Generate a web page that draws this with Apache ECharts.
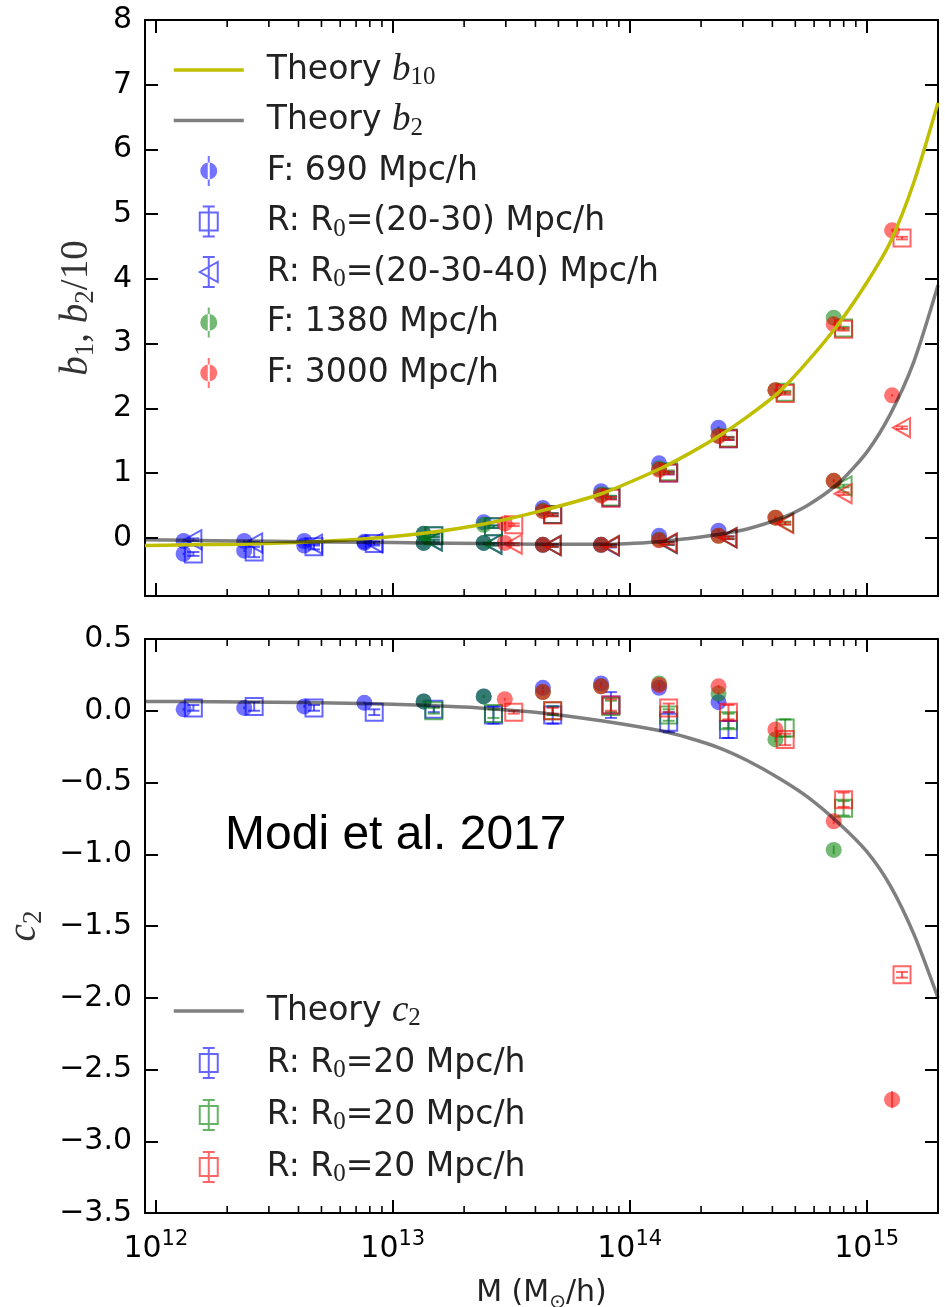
<!DOCTYPE html>
<html>
<head>
<meta charset="utf-8">
<script src="https://cdn.jsdelivr.net/npm/echarts@6/dist/echarts.min.js"></script>
<style>
  html, body { margin: 0; padding: 0; background: #fff; }
  #chart { width: 945px; height: 1307px; }
</style>
</head>
<body>
<div id="chart"></div>
<script>
// ---- Halo mass bins (M_sun/h) for each box -------------------------------
// F = Fourier-space fits (circles), R = real-space fits (squares / triangles)
const massF690  = [1.31e12, 2.36e12, 4.23e12, 7.59e12, 1.35e13, 2.42e13, 4.30e13, 7.57e13, 1.33e14, 2.37e14];
const massF1380 = [1.35e13, 2.42e13, 4.30e13, 7.57e13, 1.33e14, 2.37e14, 4.12e14, 7.26e14];
const massF3000 = [2.97e13, 4.30e13, 7.57e13, 1.33e14, 2.37e14, 4.12e14, 7.26e14, 1.28e15];
const massR690  = [1.44e12, 2.60e12, 4.65e12, 8.35e12, 1.49e13, 2.66e13, 4.73e13, 8.33e13, 1.46e14, 2.61e14];
const massR1380 = [1.49e13, 2.66e13, 4.73e13, 8.33e13, 1.46e14, 2.61e14, 4.53e14, 7.99e14];
const massR3000 = [3.24e13, 4.73e13, 8.33e13, 1.46e14, 2.61e14, 4.53e14, 7.99e14, 1.41e15];

// ---- Upper panel: b1 and b2/10 -------------------------------------------
const f690B1   = [-0.25, -0.20, -0.12, -0.08, 0.06, 0.24, 0.46, 0.72, 1.15, 1.70];
const f690B2   = [-0.05, -0.05, -0.05, -0.06, -0.08, -0.08, -0.11, -0.11, 0.03, 0.11];
const f1380B1  = [0.06, 0.20, 0.42, 0.67, 1.07, 1.58, 2.28, 3.40];
const f1380B2  = [-0.08, -0.08, -0.11, -0.11, -0.03, 0.03, 0.31, 0.88];
const f3000B1  = [0.22, 0.41, 0.65, 1.05, 1.57, 2.28, 3.30, 4.75];
const f3000B2  = [-0.08, -0.11, -0.11, -0.04, 0.03, 0.31, 0.88, 2.20];
const r690B1   = [-0.25, -0.22, -0.14, -0.09, 0.03, 0.17, 0.36, 0.62, 1.00, 1.53];
const r690B1e  = [0.03, 0.08, 0.04, 0.03, 0.02, 0.02, 0.02, 0.02, 0.02, 0.02];
const r690B2   = [-0.03, -0.08, -0.10, -0.08, -0.05, -0.10, -0.12, -0.13, -0.09, 0.00];
const r1380B1  = [0.03, 0.17, 0.36, 0.63, 1.02, 1.54, 2.25, 3.24];
const r1380B2  = [-0.05, -0.10, -0.12, -0.12, -0.09, 0.00, 0.23, 0.80];
const r3000B1  = [0.20, 0.35, 0.61, 1.00, 1.53, 2.23, 3.22, 4.63];
const r3000B2  = [-0.10, -0.12, -0.12, -0.08, 0.00, 0.22, 0.68, 1.70];
const errSmall8  = [0.02, 0.02, 0.02, 0.02, 0.02, 0.02, 0.02, 0.02];
const errSmall10 = [0.02, 0.02, 0.02, 0.02, 0.02, 0.02, 0.02, 0.02, 0.02, 0.02];

// ---- Lower panel: c2 -------------------------------------------------------
const f690C2   = [0.01, 0.02, 0.03, 0.055, 0.065, 0.10, 0.16, 0.19, 0.16, 0.06];
const f690C2e  = [0.01, 0.01, 0.01, 0.01, 0.01, 0.01, 0.01, 0.01, 0.01, 0.01];
const f1380C2  = [0.065, 0.10, 0.13, 0.17, 0.19, 0.12, -0.20, -0.97];
const f1380C2e = [0.01, 0.01, 0.01, 0.01, 0.01, 0.01, 0.02, 0.03];
const f3000C2  = [0.08, 0.13, 0.17, 0.18, 0.17, -0.13, -0.77, -2.71];
const f3000C2e = [0.01, 0.01, 0.01, 0.01, 0.01, 0.02, 0.02, 0.06];
const r690C2   = [0.02, 0.03, 0.02, -0.01, 0.01, -0.03, -0.03, 0.04, -0.08, -0.13];
const r690C2e  = [0.02, 0.03, 0.02, 0.02, 0.02, 0.06, 0.06, 0.09, 0.07, 0.06];
const r1380C2  = [0.00, -0.02, 0.00, 0.03, -0.03, -0.07, -0.12, -0.68];
const r1380C2e = [0.02, 0.03, 0.03, 0.04, 0.04, 0.05, 0.06, 0.05];
const r3000C2  = [-0.01, 0.00, 0.04, 0.02, -0.01, -0.20, -0.62, -1.84];
const r3000C2e = [0.01, 0.02, 0.04, 0.03, 0.05, 0.04, 0.05, 0.02];

// ---- Theory curves (log10 mass grid) --------------------------------------
const thLogM = [11.954, 12.12, 12.37, 12.62, 12.87, 13.13, 13.38, 13.63, 13.88, 14.13, 14.25, 14.38, 14.5, 14.63, 14.75, 14.88, 15.0, 15.1, 15.2, 15.301];
const thB10  = [-0.12, -0.11, -0.10, -0.07, -0.02, 0.07, 0.21, 0.42, 0.68, 1.07, 1.30, 1.58, 1.88, 2.25, 2.72, 3.30, 3.94, 4.57, 5.50, 6.72];
const thB2   = [-0.03, -0.04, -0.05, -0.06, -0.07, -0.08, -0.09, -0.10, -0.10, -0.06, -0.01, 0.055, 0.14, 0.29, 0.50, 0.84, 1.32, 1.91, 2.73, 3.90];
const thC2   = [0.065, 0.064, 0.061, 0.057, 0.050, 0.038, 0.018, -0.015, -0.07, -0.14, -0.19, -0.26, -0.35, -0.47, -0.60, -0.78, -0.98, -1.22, -1.56, -2.00];

// ---- Axes ------------------------------------------------------------------
const X_MIN = 9e11, X_MAX = 2e15;
const xTickExps = [12, 13, 14, 15];
const minorTickMass = [2e12, 3e12, 4e12, 5e12, 6e12, 7e12, 8e12, 9e12,
                       2e13, 3e13, 4e13, 5e13, 6e13, 7e13, 8e13, 9e13,
                       2e14, 3e14, 4e14, 5e14, 6e14, 7e14, 8e14, 9e14];
const yTopTicks = [0, 1, 2, 3, 4, 5, 6, 7, 8];
const yBotTicks = [0.5, 0.0, -0.5, -1.0, -1.5, -2.0, -2.5, -3.0, -3.5];

const BLUE = [0, 0, 255], GREEN = [0, 128, 0], RED = [255, 0, 0];
const rgba = (c, a) => `rgba(${c[0]},${c[1]},${c[2]},${a})`;
const SANS = 'DejaVu Sans';
const SERIF = 'Liberation Serif';
const INK = '#000';
const YELLOW = '#bfbf00', GREY = 'rgba(0,0,0,0.5)';

const zip3 = (m, v, e) => m.map((x, i) => [x, v[i], e[i]]);

function pointRenderer(kind, col) {
  const stroke = rgba(col, 0.6), fill = rgba(col, 0.55);
  return function (params, api) {
    const m = api.value(0), v = api.value(1), e = api.value(2);
    const c = api.coord([m, v]);
    const kids = [];
    if (e > 0) {
      const t = api.coord([m, v + e])[1], b = api.coord([m, v - e])[1];
      const ebStroke = kind === 'circle' ? fill : stroke;
      kids.push({ type: 'line', shape: { x1: c[0], y1: t, x2: c[0], y2: b }, style: { stroke: ebStroke, lineWidth: 2 } });
      if (kind !== 'circle') {
        kids.push({ type: 'line', shape: { x1: c[0] - 6, y1: t, x2: c[0] + 6, y2: t }, style: { stroke, lineWidth: 2 } });
        kids.push({ type: 'line', shape: { x1: c[0] - 6, y1: b, x2: c[0] + 6, y2: b }, style: { stroke, lineWidth: 2 } });
      }
    }
    if (kind === 'circle') {
      kids.push({ type: 'circle', shape: { cx: c[0], cy: c[1], r: 8 }, style: { fill } });
    } else if (kind === 'square') {
      kids.push({ type: 'rect', shape: { x: c[0] - 8.5, y: c[1] - 8.5, width: 17, height: 17 }, style: { fill: 'none', stroke, lineWidth: 2 } });
    } else {
      kids.push({ type: 'polygon', shape: { points: [[c[0] - 9, c[1]], [c[0] + 8, c[1] - 9.5], [c[0] + 8, c[1] + 9.5]] }, style: { fill: 'none', stroke, lineWidth: 2 } });
    }
    return { type: 'group', children: kids };
  };
}

function minorTickRenderer(params, api) {
  const cs = params.coordSys;
  const x = api.coord([api.value(0), api.value(1)])[0];
  const bottom = cs.y + cs.height, top = cs.y;
  return {
    type: 'group',
    children: [
      { type: 'line', shape: { x1: x, y1: bottom, x2: x, y2: bottom - 7 }, style: { stroke: INK, lineWidth: 1.6 } },
      { type: 'line', shape: { x1: x, y1: top, x2: x, y2: top + 7 }, style: { stroke: INK, lineWidth: 1.6 } }
    ]
  };
}

function pointSeries(name, gi, kind, col, rows, z) {
  return {
    type: 'custom', name, xAxisIndex: gi * 2, yAxisIndex: gi * 2,
    dimensions: ['m', 'v', 'e'], encode: { x: 0, y: 1 },
    data: rows, renderItem: pointRenderer(kind, col),
    itemStyle: { color: rgba(col, 0.55) }, silent: true, z: z || 2
  };
}

function theorySeries(name, gi, values, color) {
  return {
    type: 'line', name, xAxisIndex: gi * 2, yAxisIndex: gi * 2,
    data: thLogM.map((l, i) => [Math.pow(10, l), values[i]]),
    symbol: 'none', smooth: 0.25, silent: true, z: 4,
    lineStyle: { color, width: 3.5 }, itemStyle: { color }
  };
}

function xLabel(v) {
  const e = Math.round(Math.log10(v));
  if (Math.abs(Math.log10(v) - e) > 1e-6 || xTickExps.indexOf(e) < 0) return '';
  return '{b|10}{p|' + e + '}';
}

const axisLineStyle = { color: INK, width: 2 };
function xAxis(gi, position, labels) {
  return {
    type: 'log', logBase: 10, gridIndex: gi, position, min: X_MIN, max: X_MAX,
    axisLine: { show: true, onZero: false, lineStyle: axisLineStyle },
    axisTick: { show: true, inside: true, length: 13, lineStyle: { color: INK, width: 2 } },
    splitLine: { show: false },
    axisLabel: {
      show: labels, showMinLabel: false, showMaxLabel: false, margin: 16,
      formatter: xLabel, color: INK,
      rich: {
        b: { fontFamily: SANS, fontSize: 30, lineHeight: 40, color: INK },
        p: { fontFamily: SANS, fontSize: 21, lineHeight: 22, verticalAlign: 'top', color: INK }
      }
    }
  };
}
function yAxis(gi, position, labels, cfg) {
  return Object.assign({
    type: 'value', gridIndex: gi, position,
    axisLine: { show: true, onZero: false, lineStyle: axisLineStyle },
    axisTick: { show: true, inside: true, length: 13, lineStyle: { color: INK, width: 2 } },
    splitLine: { show: false },
    axisLabel: { show: labels, margin: 13, color: INK, fontFamily: SANS, fontSize: 30, showMinLabel: true }
  }, cfg);
}

const legendText = {
  'Theory b10': 'Theory {m|b}{s|10}',
  'Theory b2': 'Theory {m|b}{s|2}',
  'F: 690 Mpc/h': 'F: 690 Mpc/h',
  'R: R0=(20-30) Mpc/h': 'R: R{s|0}=(20-30) Mpc/h',
  'R: R0=(20-30-40) Mpc/h': 'R: R{s|0}=(20-30-40) Mpc/h',
  'F: 1380 Mpc/h': 'F: 1380 Mpc/h',
  'F: 3000 Mpc/h': 'F: 3000 Mpc/h',
  'Theory c2': 'Theory {m|c}{s|2}',
  'R: R0=20 Mpc/h (690)': 'R: R{s|0}=20 Mpc/h',
  'R: R0=20 Mpc/h (1380)': 'R: R{s|0}=20 Mpc/h',
  'R: R0=20 Mpc/h (3000)': 'R: R{s|0}=20 Mpc/h'
};
const ICON_CIRCLE = 'path://M0,15 A8.5,8.5 0 1,0 17,15 A8.5,8.5 0 1,0 0,15 Z M7.5,0 L9.5,0 L9.5,30 L7.5,30 Z';
const ICON_SQUARE = 'path://M0,6 L18,6 L18,24 L0,24 Z M9,0 L9,30 M3,0 L15,0 M3,30 L15,30';
const ICON_TRI    = 'path://M0,15 L18,5 L18,25 Z M9,0 L9,30 M3,0 L15,0 M3,30 L15,30';
const lineIcon = (name, color) => ({ name, itemStyle: { opacity: 0 }, lineStyle: { color, width: 3.5 } });
const filledIcon = (name, col) => ({ name, icon: ICON_CIRCLE, itemStyle: { color: rgba(col, 0.55), borderWidth: 0 } });
const hollowIcon = (name, col, icon) => ({ name, icon, itemStyle: { color: 'rgba(0,0,0,0)', borderColor: rgba(col, 0.6), borderWidth: 2 } });

const legendTextStyle = {
  fontFamily: SANS, fontSize: 33, lineHeight: 40, color: '#222', padding: [0, 0, 0, 18],
  rich: {
    m: { fontFamily: SERIF, fontStyle: 'italic', fontSize: 37, lineHeight: 40, color: '#222' },
    s: { fontFamily: SERIF, fontSize: 25, lineHeight: 22, verticalAlign: 'bottom', color: '#222' }
  }
};
const legendBase = {
  orient: 'vertical', left: 172, itemWidth: 70, itemHeight: 30,
  selectedMode: false, formatter: n => legendText[n] || n, textStyle: legendTextStyle,
  backgroundColor: 'transparent', padding: 0
};

const option = {
  animation: false,
  backgroundColor: '#fff',
  textStyle: { fontFamily: SANS },
  grid: [
    { left: 145, top: 20, width: 793, height: 576, containLabel: false, outerBoundsMode: 'none' },
    { left: 145, top: 639, width: 793, height: 574, containLabel: false, outerBoundsMode: 'none' }
  ],
  xAxis: [
    xAxis(0, 'bottom', false),
    xAxis(0, 'top', false),
    Object.assign(xAxis(1, 'bottom', true), {
      name: '{t|M (M}{o|\u2299}{t|/h)}', nameLocation: 'middle', nameGap: 60,
      nameTextStyle: { rich: {
        t: { fontFamily: SANS, fontSize: 30, lineHeight: 40, color: '#222' },
        o: { fontFamily: SANS, fontSize: 20, lineHeight: 22, verticalAlign: 'bottom', color: '#222' }
      } }
    }),
    xAxis(1, 'top', false)
  ],
  yAxis: [
    yAxis(0, 'left', true, {
      min: -0.9, max: 8, splitNumber: 9, minInterval: 1, maxInterval: 1,
      axisLabel: { show: true, margin: 13, color: INK, fontFamily: SANS, fontSize: 30, showMinLabel: false,
        formatter: v => (yTopTicks.indexOf(Math.round(v * 1000) / 1000) >= 0 ? String(Math.round(v)) : '') },
      name: '{m|b}{s|1}{r|, }{m|b}{s|2}{r|/10}', nameLocation: 'middle', nameRotate: 90, nameGap: 46,
      nameTextStyle: { rich: {
        m: { fontFamily: SERIF, fontStyle: 'italic', fontSize: 39, lineHeight: 44, color: '#333' },
        s: { fontFamily: SERIF, fontSize: 27, lineHeight: 24, verticalAlign: 'bottom', color: '#333' },
        r: { fontFamily: SERIF, fontSize: 39, lineHeight: 44, color: '#333' }
      } }
    }),
    yAxis(0, 'right', false, { min: -0.9, max: 8, splitNumber: 9, minInterval: 1, maxInterval: 1 }),
    yAxis(1, 'left', true, {
      min: -3.5, max: 0.5, interval: 0.5,
      axisLabel: { show: true, margin: 13, color: INK, fontFamily: SANS, fontSize: 30,
        formatter: v => {
          const t = yBotTicks.find(k => Math.abs(k - v) < 1e-6);
          return t === undefined ? '' : t.toFixed(1).replace('-', '\u2212');
        } },
      name: '{m|c}{s|2}', nameLocation: 'middle', nameRotate: 90, nameGap: 98,
      nameTextStyle: { rich: {
        m: { fontFamily: SERIF, fontStyle: 'italic', fontSize: 39, lineHeight: 44, color: '#333' },
        s: { fontFamily: SERIF, fontSize: 27, lineHeight: 24, verticalAlign: 'bottom', color: '#333' }
      } }
    }),
    yAxis(1, 'right', false, { min: -3.5, max: 0.5, interval: 0.5 })
  ],
  legend: [
    Object.assign({}, legendBase, {
      top: 50, itemGap: 10.5,
      data: [
        lineIcon('Theory b10', YELLOW),
        lineIcon('Theory b2', GREY),
        filledIcon('F: 690 Mpc/h', BLUE),
        hollowIcon('R: R0=(20-30) Mpc/h', BLUE, ICON_SQUARE),
        hollowIcon('R: R0=(20-30-40) Mpc/h', BLUE, ICON_TRI),
        filledIcon('F: 1380 Mpc/h', GREEN),
        filledIcon('F: 3000 Mpc/h', RED)
      ]
    }),
    Object.assign({}, legendBase, {
      top: 991, itemGap: 12,
      data: [
        lineIcon('Theory c2', GREY),
        hollowIcon('R: R0=20 Mpc/h (690)', BLUE, ICON_SQUARE),
        hollowIcon('R: R0=20 Mpc/h (1380)', GREEN, ICON_SQUARE),
        hollowIcon('R: R0=20 Mpc/h (3000)', RED, ICON_SQUARE)
      ]
    })
  ],
  graphic: [
    { type: 'text', left: 225, top: 812, silent: true,
      style: { text: 'Modi et al. 2017', fontFamily: 'Liberation Sans', fontSize: 48, fill: '#000' } }
  ],
  series: [
    // minor ticks of the log mass axis, both panels
    { type: 'custom', xAxisIndex: 0, yAxisIndex: 0, data: minorTickMass.map(m => [m, 0]), renderItem: minorTickRenderer, silent: true, z: 1 },
    { type: 'custom', xAxisIndex: 2, yAxisIndex: 2, data: minorTickMass.map(m => [m, 0]), renderItem: minorTickRenderer, silent: true, z: 1 },

    // upper panel: b1 (upper branch) and b2/10 (lower branch)
    pointSeries('F: 690 Mpc/h', 0, 'circle', BLUE, zip3(massF690, f690B1, errSmall10).concat(zip3(massF690, f690B2, errSmall10))),
    pointSeries('R: R0=(20-30) Mpc/h', 0, 'square', BLUE, zip3(massR690, r690B1, r690B1e)),
    pointSeries('R: R0=(20-30-40) Mpc/h', 0, 'triangle', BLUE, zip3(massR690, r690B2, errSmall10)),
    pointSeries('F: 1380 Mpc/h', 0, 'circle', GREEN, zip3(massF1380, f1380B1, errSmall8).concat(zip3(massF1380, f1380B2, errSmall8))),
    pointSeries('R 1380 b1', 0, 'square', GREEN, zip3(massR1380, r1380B1, errSmall8)),
    pointSeries('R 1380 b2', 0, 'triangle', GREEN, zip3(massR1380, r1380B2, errSmall8)),
    pointSeries('F: 3000 Mpc/h', 0, 'circle', RED, zip3(massF3000, f3000B1, errSmall8).concat(zip3(massF3000, f3000B2, errSmall8))),
    pointSeries('R 3000 b1', 0, 'square', RED, zip3(massR3000, r3000B1, errSmall8)),
    pointSeries('R 3000 b2', 0, 'triangle', RED, zip3(massR3000, r3000B2, errSmall8)),
    theorySeries('Theory b10', 0, thB10, YELLOW),
    theorySeries('Theory b2', 0, thB2, GREY),

    // lower panel: c2
    pointSeries('F 690 c2', 1, 'circle', BLUE, zip3(massF690, f690C2, f690C2e)),
    pointSeries('R: R0=20 Mpc/h (690)', 1, 'square', BLUE, zip3(massR690, r690C2, r690C2e)),
    pointSeries('F 1380 c2', 1, 'circle', GREEN, zip3(massF1380, f1380C2, f1380C2e)),
    pointSeries('R: R0=20 Mpc/h (1380)', 1, 'square', GREEN, zip3(massR1380, r1380C2, r1380C2e)),
    pointSeries('F 3000 c2', 1, 'circle', RED, zip3(massF3000, f3000C2, f3000C2e)),
    pointSeries('R: R0=20 Mpc/h (3000)', 1, 'square', RED, zip3(massR3000, r3000C2, r3000C2e)),
    theorySeries('Theory c2', 1, thC2, GREY)
  ]
};

const chart = echarts.init(document.getElementById('chart'), null, { renderer: 'canvas' });
chart.setOption(option);
</script>
</body>
</html>
